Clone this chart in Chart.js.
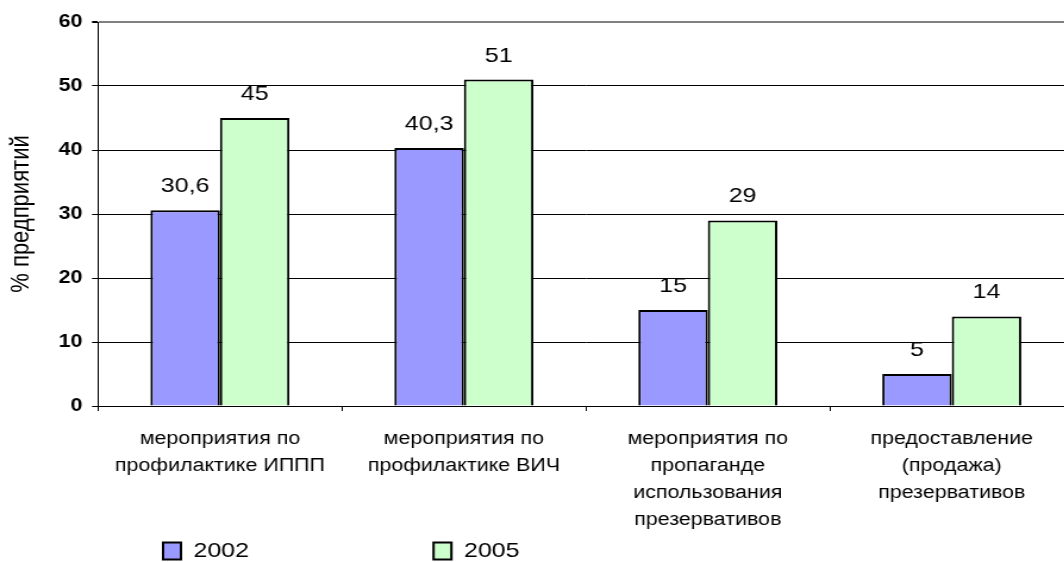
<!DOCTYPE html>
<html>
<head>
<meta charset="utf-8">
<script src="https://cdn.jsdelivr.net/npm/chart.js@4/dist/chart.umd.min.js"></script>
<style>
  html, body { margin: 0; padding: 0; background: #fff; overflow: hidden; }
  /* chart is laid out narrower and stretched sideways to the page width */
  #wrap { width: 914px; height: 562px; transform: scaleX(1.1904); transform-origin: 0 0; }
</style>
</head>
<body>
<div id="wrap"><canvas id="c" width="914" height="562"></canvas></div>
<script>
// data
const categories = [
  ["мероприятия по", "профилактике ИППП"],
  ["мероприятия по", "профилактике ВИЧ"],
  ["мероприятия по", "пропаганде", "использования", "презервативов"],
  ["предоставление", "(продажа)", "презервативов"]
];
const seriesNames = ["2002", "2005"];
const values2002 = [30.6, 40.3, 15, 5];
const values2005 = [45, 51, 29, 14];
const yMin = 0, yMax = 60, yStep = 10;
const yTitle = "% предприятий";

const FONT = "'Liberation Sans', Arial, sans-serif";

// numbers above bars, decimal comma
const valueLabels = {
  id: "valueLabels",
  afterDatasetsDraw(chart) {
    const ctx = chart.ctx;
    ctx.save();
    ctx.font = "21px " + FONT;
    ctx.fillStyle = "#000";
    ctx.textAlign = "center";
    ctx.textBaseline = "alphabetic";
    chart.data.datasets.forEach((ds, i) => {
      chart.getDatasetMeta(i).data.forEach((bar, j) => {
        ctx.fillText(String(ds.data[j]).replace(".", ","), bar.x, bar.y - 18);
      });
    });
    ctx.restore();
  }
};

// legend sits under the left part of the plot
const legendPlace = {
  id: "legendPlace",
  afterLayout(chart) {
    const lg = chart.legend, pad = lg.options.labels.padding;
    lg.left = 137 - pad;
    lg.top = 540.5 - pad;
  }
};

new Chart(document.getElementById("c"), {
  type: "bar",
  data: {
    labels: categories,
    datasets: [
      { label: seriesNames[0], data: values2002, backgroundColor: "#9999FF", borderColor: "#000", borderWidth: 2 },
      { label: seriesNames[1], data: values2005, backgroundColor: "#CCFFCC", borderColor: "#000", borderWidth: 2 }
    ]
  },
  options: {
    responsive: false,
    animation: false,
    layout: { padding: { left: 5, right: 12, top: 22, bottom: 0 } },
    datasets: { bar: { barPercentage: 1, categoryPercentage: 0.57 } },
    scales: {
      x: {
        afterFit(s) { s.height = 146; },
        border: { display: true, color: "#000", width: 1 },
        grid: { drawOnChartArea: false, drawTicks: true, tickLength: 5, color: "#000", offset: true },
        ticks: {
          color: "#000", autoSkip: false, maxRotation: 0, padding: 15,
          font: { family: FONT, size: 18, lineHeight: 1.5 }
        }
      },
      y: {
        min: yMin, max: yMax,
        afterFit(s) { s.width = 77.3; },
        border: { display: true, color: "#000", width: 1 },
        grid: {
          color: c => c.tick.value === yMax ? "#808080" : "#000",
          lineWidth: c => c.tick.value === yMax ? 2 : 1,
          tickColor: "#000", tickLength: 5
        },
        ticks: {
          stepSize: yStep, color: "#000", padding: 8,
          font: { family: FONT, size: 18, weight: "bold" }
        },
        title: {
          display: true, text: yTitle, color: "#000", padding: 0,
          font: { family: FONT, size: 22, lineHeight: 1.2 }
        }
      }
    },
    plugins: {
      tooltip: { enabled: false },
      legend: {
        position: "bottom",
        align: "start",
        maxHeight: 10,
        labels: {
          color: "#000", boxWidth: 15, boxHeight: 17, padding: 155,
          font: { family: FONT, size: 21 }
        }
      }
    }
  },
  plugins: [valueLabels, legendPlace]
});
</script>
</body>
</html>
